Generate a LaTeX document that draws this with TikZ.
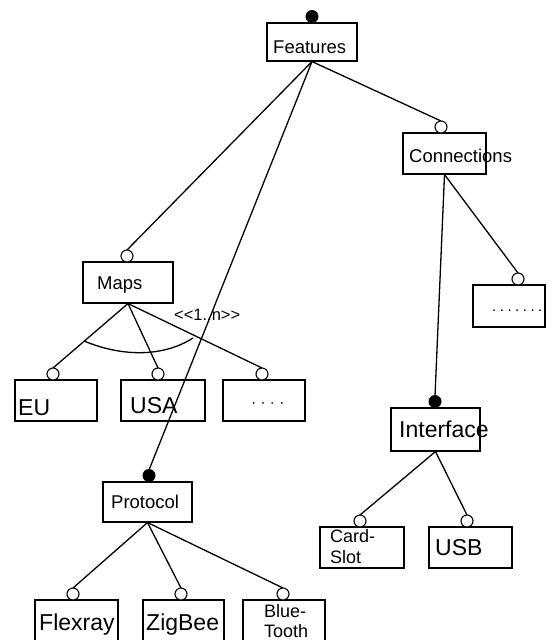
\documentclass[tikz,border=0pt]{standalone}
\usepackage{fontspec}
\setmainfont{Liberation Sans}
\begin{document}
\begin{tikzpicture}[x=1pt, y=-1pt,
  box/.style={draw, line width=1.1pt, rectangle, inner sep=0pt},
  opt/.style={draw, line width=1.1pt, circle, fill=white, inner sep=0pt, minimum size=12pt},
  mand/.style={circle, fill=black, inner sep=0pt, minimum size=13pt},
  lbl/.style={anchor=base west, inner sep=0pt},
  big/.style={lbl, font=\fontsize{23}{26}\selectfont},
  mid/.style={lbl, font=\fontsize{18.5}{21}\selectfont},
  sml/.style={lbl, font=\fontsize{18}{21}\selectfont},
  edge/.style={line width=1.3pt}]
\useasboundingbox (0,0) rectangle (557,640);

% feature boxes
\node[box, minimum width=90pt, minimum height=38pt] (features) at (312,42) {};
\node[box, minimum width=83pt, minimum height=41pt] (connections) at (444.5,153.5) {};
\node[box, minimum width=90pt, minimum height=41pt] (maps) at (128,282.5) {};
\node[box, minimum width=82pt, minimum height=41pt] (eu) at (56,400.5) {};
\node[box, minimum width=84pt, minimum height=41pt] (usa) at (163,400.5) {};
\node[box, minimum width=82pt, minimum height=41pt] (mapmore) at (264,400.5) {};
\node[box, minimum width=72pt, minimum height=42pt] (conmore) at (509,306) {};
\node[box, minimum width=89pt, minimum height=43pt] (interface) at (435.5,429.5) {};
\node[box, minimum width=84pt, minimum height=41pt] (cardslot) at (362,547.5) {};
\node[box, minimum width=83pt, minimum height=41pt] (usb) at (470.5,547.5) {};
\node[box, minimum width=89pt, minimum height=40pt] (protocol) at (147.5,502) {};
\node[box, minimum width=83pt, minimum height=50pt] (flexray) at (76.5,625) {};
\node[box, minimum width=81pt, minimum height=50pt] (zigbee) at (183.5,625) {};
\node[box, minimum width=82pt, minimum height=50pt] (bluetooth) at (284,625) {};

% connectors
\draw[edge] (features.south) -- (127,250) coordinate (mapsin);
\draw[edge] (features.south) -- (441,121) coordinate (conin);
\draw[edge] (features.south) -- (149,470) coordinate (protin);
\draw[edge] (maps.south) -- (53,368) coordinate (euin);
\draw[edge] (maps.south) -- (158,368) coordinate (usain);
\draw[edge] (maps.south) -- (262,368) coordinate (mapmorein);
\draw[edge] (connections.south) -- (518,273) coordinate (conmorein);
\draw[edge] (connections.south) -- (435,396) coordinate (ifin);
\draw[edge] (interface.south) -- (360,515) coordinate (cardin);
\draw[edge] (interface.south) -- (467,515) coordinate (usbin);
\draw[edge] (protocol.south) -- (73,588) coordinate (flexin);
\draw[edge] (protocol.south) -- (181,588) coordinate (zigin);
\draw[edge] (protocol.south) -- (283,588) coordinate (bluein);

% group cardinality arc
\coordinate (arcA) at (84,341);
\coordinate (arcB) at (193,338);
\draw[edge] (arcA) .. controls (125,358) and (165,356) .. (arcB);

% optional / mandatory markers
\node[mand] (mfeatures) at (312,16.5) {};
\node[opt] (omaps) at (127,256) {};
\node[opt] (oconn) at (441,127) {};
\node[mand] (mprot) at (149,475.5) {};
\node[opt] (oeu) at (53,374) {};
\node[opt] (ousa) at (158,374) {};
\node[opt] (omapmore) at (262,374) {};
\node[opt] (oconmore) at (518,279) {};
\node[mand] (mif) at (435,401.5) {};
\node[opt] (ocard) at (360,521) {};
\node[opt] (ousb) at (467,521) {};
\node[opt] (oflex) at (73,594) {};
\node[opt] (ozig) at (181,594) {};
\node[opt] (oblue) at (283,594) {};

% texts
\node[mid] (tfeatures) at (273,53) {Features};
\node[mid] (tconn) at (409,162) {Connections};
\node[mid] (tmaps) at (97,289) {Maps};
\node[lbl, font=\fontsize{16.5}{19}\selectfont] (tcard) at (174,320) {<\kern0pt<1..n>\kern0pt>};
\node[big] (teu) at (18,415) {EU};
\node[big] (tusa) at (130,413) {USA};
\node[lbl, font=\fontsize{15}{18}\selectfont] (tmapmore) at (251,407)
  {·\kern4.4pt·\kern4.4pt·\kern4.4pt·};
\node[lbl, font=\fontsize{15}{18}\selectfont] (tconmore) at (492,311)
  {.\kern3.5pt.\kern3.5pt.\kern3.5pt.\kern3.5pt.\kern3.5pt.\kern3.5pt.};
\node[big] (tif) at (399,437) {Interface};
\node[sml] (tcard1) at (330,542) {Card-};
\node[sml] (tcard2) at (330,563) {Slot};
\node[big] (tusb) at (435,555) {USB};
\node[mid] (tprot) at (111,508) {Protocol};
\node[big] (tflex) at (39,630) {Flexray};
\node[big] (tzig) at (146,630) {ZigBee};
\node[sml] (tblue1) at (264,617) {Blue-};
\node[sml] (tblue2) at (264,637) {Tooth};
\end{tikzpicture}
\end{document}
